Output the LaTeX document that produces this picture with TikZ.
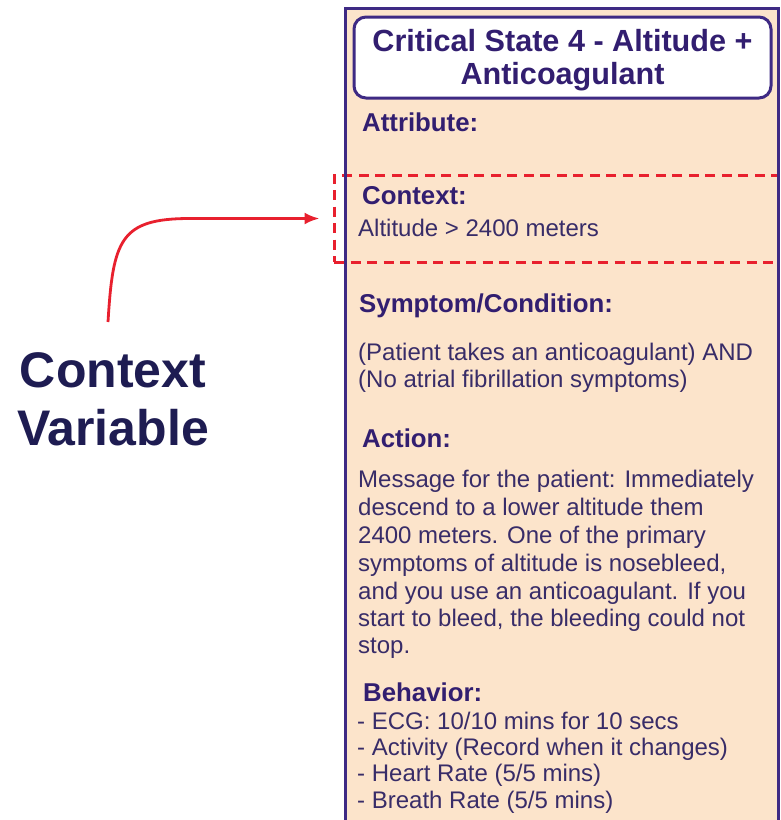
\documentclass[tikz,border=0pt]{standalone}
\usepackage{fontspec}
\setmainfont{Liberation Sans}
\usetikzlibrary{arrows.meta}
\definecolor{peach}{RGB}{252,228,203}
\definecolor{panelpurple}{RGB}{62,42,132}
\definecolor{hdrcol}{RGB}{50,30,112}
\definecolor{bodycol}{RGB}{56,44,104}
\definecolor{cvcol}{RGB}{30,28,82}
\definecolor{ctxred}{RGB}{232,32,46}
\tikzset{
  panelbox/.style={fill=peach, draw=none, minimum width=432pt, minimum height=831pt, inner sep=0pt},
  panelline/.style={draw=panelpurple, line width=3pt},
  titlebox/.style={draw=panelpurple, fill=white, line width=3pt, rounded corners=12pt,
    minimum width=417pt, minimum height=81pt, inner sep=0pt},
  titletext/.style={inner sep=0pt, align=center,
    text=hdrcol, font=\bfseries\fontsize{30.6}{33}\selectfont},
  ctxbox/.style={draw=ctxred, line width=3pt, dash pattern=on 10pt off 6.5pt,
    minimum width=444pt, minimum height=87pt, inner sep=0pt},
  hdr/.style={anchor=base west, inner sep=0pt, text=hdrcol, font=\bfseries\fontsize{25.8}{28}\selectfont},
  body/.style={anchor=base west, inner sep=0pt, text=bodycol, font=\fontsize{24}{28}\selectfont},
  cvlabel/.style={inner sep=0pt, align=center, text=cvcol, font=\bfseries\fontsize{50}{58}\selectfont},
  ctxarrow/.style={draw=ctxred, line width=2.8pt, -{Latex[length=15pt,width=12pt]}}
}
\begin{document}
\begin{tikzpicture}[x=1pt,y=-1pt]
\clip (0,0) rectangle (781,820);
\fill[white] (0,0) rectangle (781,820);
% panel
\node[panelbox] (panel) at (562,424.5) {};
\node[ctxbox] (ctx) at (556,218.5) {};
\draw[panelline] (panel.south west) -- (panel.north west) -- (panel.north east) -- (panel.south east);
% title
\node[titlebox] (title) at (562.5,57.5) {};
\node[titletext] (titletxt) at ([yshift=-3pt]title.center) {Critical State 4 - Altitude +\\Anticoagulant};
% sections
\node[hdr] (attr) at (362,131) {Attribute:};
\node[hdr] (context) at (362,204) {Context:};
\node[body] (ctxline) at (358,236) {Altitude > 2400 meters};
\node[hdr] (symp) at (359,312) {Symptom/Condition:};
\node[body] (symp1) at (358,360) {(Patient takes an anticoagulant) AND};
\node[body] (symp2) at (358,387) {(No atrial fibrillation symptoms)};
\node[hdr] (action) at (362,447) {Action:};
\node[body] (act1) at (358,487) {Message for the patient: Immediately};
\node[body] (act2) at (358,515.5) {descend to a lower altitude them};
\node[body] (act3) at (358,543.5) {2400 meters. One of the primary};
\node[body] (act4) at (358,571.5) {symptoms of altitude is nosebleed,};
\node[body] (act5) at (358,599) {and you use an anticoagulant. If you};
\node[body] (act6) at (358,626.5) {start to bleed, the bleeding could not};
\node[body] (act7) at (358,653.5) {stop.};
\node[hdr] (behav) at (363,701) {Behavior:};
\node[body] (beh1) at (357,729) {- ECG: 10/10 mins for 10 secs};
\node[body] (beh2) at (357,755) {- Activity (Record when it changes)};
\node[body] (beh3) at (357,781.5) {- Heart Rate (5/5 mins)};
\node[body] (beh4) at (357,808) {- Breath Rate (5/5 mins)};
% context variable label and arrow
\node[cvlabel] (cv) at (113,399) {Context\\Variable};
\coordinate (cvtail) at (108,322);
\coordinate (bend) at (190,218.5);
\draw[ctxarrow, shorten >=13pt] (cvtail) .. controls +(5,-82) and +(-70,0) .. (bend) -- (ctx.west);
\end{tikzpicture}
\end{document}
